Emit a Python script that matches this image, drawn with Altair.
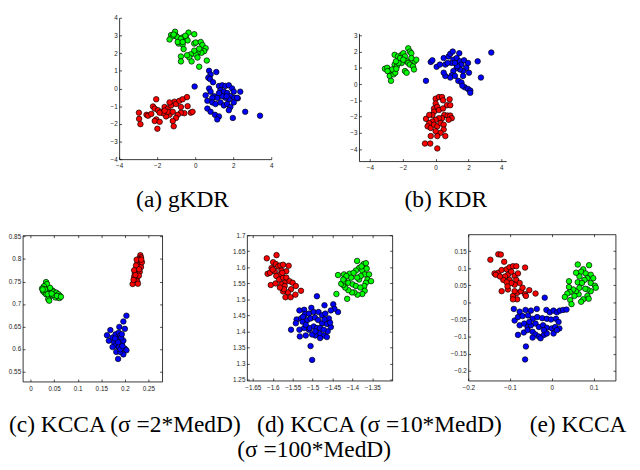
import altair as alt
import pandas as pd

W, H = 640, 470

# ---------------- data ----------------
A_RED = [(-2.05,-0.61),(-2.96,-1.37),(-2.95,-1.72),(-2.88,-2.02),(-2.56,-1.49),(-2.48,-1.54),(-2.22,-1.02),(-2.13,-1.14),(-1.96,-1.23),(-1.79,-1.32),(-1.61,-1.05),(-1.44,-1.14),(-1.27,-0.96),(-1.09,-0.75),(-1.01,-0.88),(-0.83,-0.70),(-0.66,-0.61),(-0.43,-0.49),(-0.40,-1.00),(-0.23,-1.37),(-0.14,-1.32),(-0.57,-1.40),(-0.75,-1.37),(-0.92,-1.49),(-1.01,-1.67),(-1.18,-1.84),(-1.13,-2.14),(-1.35,-1.49),(-1.53,-1.58),(-1.70,-1.40),(-1.87,-1.37),(-2.05,-1.75),(-2.13,-1.84),(-1.87,-1.89),(-1.99,-2.28),(-2.31,-1.44),(-1.44,-1.32),(-1.61,-1.26),(-1.18,-1.32),(-0.75,-1.05),(-1.35,-0.79)]
A_GREEN = [(-1.06,3.21),(-1.27,3.02),(-1.18,2.95),(-1.35,2.77),(-1.01,2.98),(-0.92,2.89),(-0.66,2.89),(-0.57,2.84),(-0.49,2.89),(-0.75,2.81),(-0.35,3.16),(-0.05,3.07),(-0.87,2.54),(-0.66,2.49),(-0.40,2.72),(-0.05,2.54),(0.03,2.60),(0.29,2.63),(0.38,2.46),(0.55,2.28),(0.47,2.11),(0.33,2.02),(0.12,2.02),(0.03,1.93),(-0.05,2.14),(-0.23,1.93),(-0.31,1.75),(-0.19,1.53),(-0.43,1.88),(-0.61,2.23),(-0.75,1.81),(-0.75,1.53),(0.21,1.23),(0.61,1.58),(0.12,1.75),(-0.92,2.63),(-1.13,3.05),(-0.52,2.98),(-0.66,2.63),(0.21,2.25)]
A_BLUE = [(0.73,1.00),(0.81,0.79),(1.11,0.93),(0.69,0.61),(0.78,0.53),(0.94,0.35),(-0.03,0.11),(0.73,0.00),(0.81,-0.18),(0.55,-0.39),(0.99,-0.44),(1.25,0.14),(1.42,0.18),(1.59,0.14),(1.77,0.18),(1.33,-0.09),(1.51,-0.18),(1.68,-0.26),(1.94,0.00),(2.03,-0.18),(2.37,-0.18),(1.85,-0.44),(2.06,-0.53),(2.24,-0.56),(1.77,-0.61),(1.59,-0.53),(1.42,-0.44),(1.16,-0.53),(0.90,-0.53),(0.64,-0.70),(0.90,-0.79),(1.07,-0.88),(1.33,-0.79),(1.51,-0.96),(1.68,-0.88),(1.85,-1.05),(1.77,-1.23),(2.03,-0.79),(0.64,-1.14),(0.81,-1.32),(1.04,-1.49),(1.25,-1.58),(1.16,-1.75),(1.98,-1.67),(2.63,-1.32),(3.41,-1.54),(2.20,-0.53),(1.25,-0.26),(1.65,-0.44)]

B_RED = [(0.00,-0.90),(0.20,-0.80),(0.39,-0.80),(0.45,-1.00),(0.85,-0.94),(0.00,-1.20),(-0.10,-1.50),(0.10,-1.40),(-0.10,-1.70),(-0.20,-1.90),(0.20,-1.60),(0.69,-1.30),(0.89,-1.30),(0.45,-1.50),(0.53,-1.90),(0.73,-1.94),(0.89,-1.94),(0.98,-2.10),(0.79,-2.20),(0.39,-2.10),(0.20,-2.10),(0.00,-2.20),(-0.20,-2.30),(-0.39,-2.40),(-0.59,-2.14),(-0.49,-2.60),(-0.30,-2.70),(-0.10,-2.50),(0.10,-2.60),(0.30,-2.40),(0.49,-2.50),(0.49,-2.80),(0.30,-3.00),(0.59,-3.20),(0.10,-3.20),(-0.30,-3.20),(-0.65,-3.66),(-0.33,-3.66),(0.10,-3.96),(0.00,-2.90),(-0.39,-1.90)]
B_GREEN = [(-3.09,0.94),(-2.95,1.00),(-2.85,0.80),(-2.80,0.50),(-2.72,0.20),(-2.56,0.60),(-2.46,0.70),(-2.50,1.20),(-2.36,1.10),(-2.50,1.80),(-2.30,1.70),(-2.07,1.80),(-1.97,1.90),(-1.87,1.70),(-1.67,2.20),(-1.57,2.00),(-1.48,1.90),(-1.77,1.40),(-1.67,1.30),(-1.57,1.20),(-1.38,1.10),(-1.28,1.40),(-1.18,1.50),(-1.32,0.90),(-1.87,0.80),(-1.77,0.70),(-2.07,1.30),(-2.26,1.30),(-2.17,1.60),(-2.66,0.90),(-2.42,1.40),(-1.97,1.50),(-1.48,1.60),(-2.40,0.94),(-2.93,0.80)]
B_BLUE = [(-0.59,0.20),(-0.30,1.36),(-0.20,1.46),(0.06,1.06),(0.26,1.20),(0.49,1.60),(0.59,1.20),(0.79,1.70),(0.89,1.86),(1.04,2.00),(1.08,1.50),(0.98,1.30),(1.28,1.60),(1.44,1.90),(1.48,1.40),(1.57,1.20),(1.73,1.46),(1.97,1.30),(1.87,1.00),(1.67,0.80),(1.48,0.90),(1.28,1.00),(1.08,0.80),(0.98,0.54),(0.89,0.40),(0.59,0.50),(0.49,0.70),(1.18,0.50),(1.38,0.20),(1.57,0.10),(1.77,-0.20),(1.97,-0.30),(2.11,-0.40),(2.11,-0.54),(1.63,-0.10),(1.32,1.10),(2.56,1.40),(2.76,0.40),(3.39,1.94),(1.18,1.30),(0.73,1.30),(1.67,0.50),(2.03,0.70)]

C_RED = [(0.2329,0.8085),(0.2343,0.8036),(0.2297,0.8000),(0.2316,0.7943),(0.2264,0.7893),(0.2297,0.7858),(0.2251,0.7801),(0.2283,0.7772),(0.2231,0.7730),(0.2211,0.7680),(0.2264,0.7680),(0.2198,0.7609),(0.2251,0.7573),(0.2211,0.7538),(0.2264,0.7502),(0.2165,0.7445),(0.2277,0.7452),(0.2316,0.7716),(0.2343,0.7822),(0.2362,0.7929),(0.2238,0.7858),(0.2198,0.7751),(0.2297,0.7630),(0.2251,0.7986),(0.2185,0.7538),(0.2303,0.7772),(0.2349,0.7986),(0.2224,0.7644)]
C_GREEN = [(0.0328,0.7488),(0.0348,0.7445),(0.0282,0.7395),(0.0243,0.7346),(0.0262,0.7289),(0.0295,0.7253),(0.0361,0.7324),(0.0394,0.7289),(0.0427,0.7253),(0.0459,0.7303),(0.0492,0.7275),(0.0505,0.7218),(0.0545,0.7253),(0.0591,0.7218),(0.0623,0.7182),(0.0571,0.7147),(0.0525,0.7147),(0.0427,0.7182),(0.0374,0.7111),(0.0394,0.7075),(0.0328,0.7218),(0.0308,0.7324),(0.0479,0.7203),(0.0610,0.7132),(0.0413,0.7360),(0.0361,0.7218),(0.0558,0.7182),(0.0643,0.7161),(0.0256,0.7324),(0.0446,0.7232)]
C_BLUE = [(0.2034,0.6741),(0.1969,0.6613),(0.1883,0.6492),(0.2001,0.6449),(0.1693,0.6421),(0.1621,0.6307),(0.1660,0.6186),(0.1739,0.6257),(0.1804,0.6329),(0.1870,0.6364),(0.1903,0.6293),(0.1837,0.6222),(0.1772,0.6151),(0.1804,0.6080),(0.1870,0.6044),(0.1936,0.6115),(0.1969,0.6186),(0.1923,0.6257),(0.2001,0.6009),(0.2034,0.5973),(0.1969,0.5881),(0.1857,0.5781),(0.1818,0.5937),(0.1903,0.5937),(0.1739,0.6044),(0.1936,0.6329),(0.1857,0.6151),(0.1791,0.6236),(0.1903,0.5994),(0.1949,0.6065)]

D_RED = [(-1.615,1.628),(-1.5905,1.638),(-1.599,1.616),(-1.592,1.610),(-1.603,1.598),(-1.613,1.580),(-1.607,1.583),(-1.595,1.588),(-1.586,1.603),(-1.581,1.606),(-1.574,1.608),(-1.560,1.605),(-1.578,1.590),(-1.582,1.578),(-1.591,1.573),(-1.605,1.545),(-1.593,1.550),(-1.584,1.562),(-1.574,1.568),(-1.566,1.568),(-1.570,1.552),(-1.578,1.547),(-1.570,1.542),(-1.558,1.557),(-1.550,1.552),(-1.542,1.542),(-1.554,1.532),(-1.562,1.522),(-1.574,1.525),(-1.568,1.507),(-1.555,1.507),(-1.543,1.515),(-1.529,1.527),(-1.572,1.532),(-1.582,1.537),(-1.600,1.593),(-1.566,1.588),(-1.576,1.583)]
D_GREEN = [(-1.436,1.576),(-1.421,1.578),(-1.407,1.580),(-1.388,1.620),(-1.372,1.610),(-1.366,1.613),(-1.383,1.598),(-1.391,1.590),(-1.375,1.590),(-1.369,1.578),(-1.358,1.578),(-1.362,1.562),(-1.353,1.557),(-1.366,1.552),(-1.370,1.542),(-1.369,1.527),(-1.375,1.517),(-1.387,1.515),(-1.395,1.522),(-1.401,1.522),(-1.410,1.529),(-1.418,1.537),(-1.423,1.545),(-1.428,1.549),(-1.419,1.557),(-1.410,1.552),(-1.399,1.547),(-1.391,1.542),(-1.383,1.562),(-1.379,1.573),(-1.388,1.568),(-1.403,1.568),(-1.415,1.573),(-1.440,1.517),(-1.413,1.502),(-1.380,1.537),(-1.377,1.603),(-1.364,1.596),(-1.397,1.583),(-1.423,1.562)]
D_BLUE = [(-1.489,1.510),(-1.470,1.482),(-1.448,1.485),(-1.436,1.461),(-1.445,1.471),(-1.454,1.466),(-1.521,1.468),(-1.533,1.466),(-1.519,1.454),(-1.509,1.456),(-1.503,1.474),(-1.497,1.461),(-1.485,1.461),(-1.476,1.451),(-1.468,1.456),(-1.459,1.441),(-1.540,1.438),(-1.529,1.441),(-1.525,1.431),(-1.513,1.436),(-1.505,1.441),(-1.494,1.444),(-1.486,1.436),(-1.476,1.426),(-1.464,1.424),(-1.454,1.414),(-1.462,1.401),(-1.472,1.388),(-1.483,1.394),(-1.493,1.388),(-1.501,1.391),(-1.509,1.406),(-1.521,1.411),(-1.533,1.406),(-1.554,1.406),(-1.532,1.385),(-1.517,1.388),(-1.507,1.411),(-1.497,1.416),(-1.489,1.411),(-1.481,1.411),(-1.472,1.406),(-1.456,1.428),(-1.464,1.383),(-1.481,1.380),(-1.493,1.401),(-1.517,1.421),(-1.524,1.446),(-1.505,1.355),(-1.501,1.312),(-1.542,1.426),(-1.470,1.438)]

E_RED = [(-0.147,0.125),(-0.128,0.141),(-0.122,0.140),(-0.114,0.119),(-0.137,0.085),(-0.128,0.087),(-0.120,0.095),(-0.108,0.097),(-0.101,0.103),(-0.093,0.106),(-0.085,0.106),(-0.064,0.102),(-0.105,0.081),(-0.112,0.076),(-0.116,0.066),(-0.101,0.066),(-0.089,0.078),(-0.085,0.066),(-0.077,0.057),(-0.089,0.052),(-0.097,0.057),(-0.108,0.059),(-0.120,0.033),(-0.105,0.038),(-0.093,0.019),(-0.083,0.009),(-0.093,0.009),(-0.083,0.028),(-0.074,0.033),(-0.064,0.024),(-0.054,0.036),(-0.039,0.026),(-0.070,0.043),(-0.081,0.085),(-0.097,0.090),(-0.134,0.081),(-0.124,0.076),(-0.106,0.047),(-0.062,0.019),(-0.089,0.033)]
E_GREEN = [(0.062,0.111),(0.075,0.097),(0.089,0.109),(0.070,0.090),(0.081,0.085),(0.093,0.081),(0.085,0.071),(0.078,0.066),(0.066,0.076),(0.062,0.059),(0.072,0.057),(0.093,0.057),(0.103,0.049),(0.105,0.043),(0.093,0.033),(0.085,0.038),(0.085,0.019),(0.088,0.011),(0.075,0.009),(0.070,0.002),(0.064,0.024),(0.058,0.033),(0.051,0.038),(0.043,0.030),(0.037,0.026),(0.031,0.016),(0.041,0.045),(0.041,0.062),(0.044,0.007),(0.047,-0.005),(0.054,0.019),(0.066,0.043),(0.058,0.087),(0.080,0.040),(0.099,0.071)]
E_BLUE = [(-0.017,0.014),(-0.091,-0.019),(-0.077,-0.027),(-0.063,-0.022),(-0.050,-0.024),(-0.036,-0.019),(-0.013,-0.022),(-0.005,-0.029),(0.004,-0.024),(0.012,-0.029),(0.019,-0.024),(0.027,-0.022),(0.035,-0.021),(-0.089,-0.053),(-0.081,-0.043),(-0.070,-0.040),(-0.057,-0.038),(-0.046,-0.048),(-0.035,-0.043),(-0.023,-0.046),(-0.012,-0.048),(-0.002,-0.050),(0.010,-0.048),(0.016,-0.057),(-0.077,-0.067),(-0.066,-0.062),(-0.058,-0.072),(-0.050,-0.067),(-0.039,-0.062),(-0.031,-0.072),(-0.021,-0.067),(-0.012,-0.074),(0.000,-0.076),(0.008,-0.072),(0.018,-0.076),(-0.081,-0.095),(-0.067,-0.088),(-0.058,-0.081),(-0.046,-0.086),(-0.039,-0.094),(-0.031,-0.100),(-0.019,-0.095),(-0.012,-0.091),(0.004,-0.091),(0.012,-0.081),(-0.027,-0.105),(-0.046,-0.103),(-0.062,-0.129),(-0.064,-0.167),(-0.054,-0.057),(-0.019,-0.081)]

# axis domains and tick values
A_XDOM, A_YDOM = [-4, 4], [-4, 4]
B_XDOM, B_YDOM = [-4.67, 4.3], [-4.74, 3.12]
C_XDOM, C_YDOM = [-0.017, 0.279], [0.528, 0.853]
D_XDOM, D_YDOM = [-1.665, -1.30], [1.248, 1.70]
E_XDOM, E_YDOM = [-0.2, 0.152], [-0.2285, 0.1997]

A_XT, A_YT = [-4, -2, 0, 2, 4], [-4, -3, -2, -1, 0, 1, 2, 3, 4]
B_XT, B_YT = [-4, -2, 0, 2, 4], [-4, -3, -2, -1, 0, 1, 2, 3]
C_XT, C_YT = [0, 0.05, 0.1, 0.15, 0.2, 0.25], [0.55, 0.6, 0.65, 0.7, 0.75, 0.8, 0.85]
D_XT = [-1.65, -1.6, -1.55, -1.5, -1.45, -1.4, -1.35]
D_YT = [1.25, 1.3, 1.35, 1.4, 1.45, 1.5, 1.55, 1.6, 1.65, 1.7]
E_XT = [-0.2, -0.1, 0, 0.1]
E_YT = [-0.2, -0.15, -0.1, -0.05, 0, 0.05, 0.1, 0.15]

CAPTIONS = ["(a) gKDR", "(b) KDR", "(c) KCCA (σ =2*MedD)", "(d) KCCA (σ =10*MedD)",
            "(e) KCCA", "(σ =100*MedD)"]

# ---------------- layout (pixels, page coordinates) ----------------
RECT_A = (122, 12, 278, 157)
RECT_B = (368, 28, 519, 159)
RECT_C = (23, 235, 166, 385)
RECT_D = (253, 235, 402, 384)
RECT_E = (480, 234, 631, 384)
CAP_POS = [(187, 206, "center"), (457, 206, "center"), (9, 437, "left"),
           (389, 437, "center"), (543, 437, "left"), (322, 462, "center")]

COLOR = alt.Scale(domain=["r", "g", "b"], range=["#ff0000", "#00ff00", "#0000ff"])


def pts_df(red, green, blue):
    rows = []
    for cls, pts in (("r", red), ("g", green), ("b", blue)):
        for x, y in pts:
            rows.append({"x": x, "y": y, "cls": cls})
    return pd.DataFrame(rows)


LAB = dict(labelFont="Liberation Sans", labelFontSize=6.5, labelColor="#222",
           labelFlush=False, labelOverlap=False, grid=False, title=None,
           format="~g", domainColor="black", domainWidth=0.8)
TCK = dict(labels=False, ticks=True, tickSize=2.5, tickColor="black", tickWidth=0.7,
           grid=False, title=None)


def panel(df, rect, xdom, ydom, xt, yt, box):
    l, t, r, b = rect
    xs = alt.Scale(domain=xdom, range=[l, r], nice=False, zero=False)
    ys = alt.Scale(domain=ydom, range=[b, t], nice=False, zero=False)
    pts = alt.Chart(df).mark_point(filled=True, size=32, opacity=1, stroke="black",
                                   strokeWidth=0.7).encode(
        x=alt.X("x:Q", scale=xs, axis=alt.Axis(orient="bottom", offset=b - H, values=xt,
                                               ticks=False, labelPadding=4, **LAB)),
        y=alt.Y("y:Q", scale=ys, axis=alt.Axis(orient="left", offset=-l, values=yt,
                                               ticks=False, labelPadding=2, **LAB)),
        color=alt.Color("cls:N", scale=COLOR, legend=None),
    )
    inv = alt.Chart(df).mark_point(opacity=0)
    inner = inv.encode(
        x=alt.X("x:Q", scale=xs, axis=alt.Axis(orient="top", offset=-b, values=xt,
                                               domain=False, **TCK)),
        y=alt.Y("y:Q", scale=ys, axis=alt.Axis(orient="right", offset=l - W, values=yt,
                                               domain=False, **TCK)),
    )
    layers = [pts, inner]
    if box:
        frame = inv.encode(
            x=alt.X("x:Q", scale=xs, axis=alt.Axis(orient="bottom", offset=t - H, values=xt,
                                                   domain=True, domainColor="black",
                                                   domainWidth=0.8, **TCK)),
            y=alt.Y("y:Q", scale=ys, axis=alt.Axis(orient="left", offset=-r, values=yt,
                                                   domain=True, domainColor="black",
                                                   domainWidth=0.8, **TCK)),
        )
        layers.append(frame)
    return layers


layers = []
layers += panel(pts_df(A_RED, A_GREEN, A_BLUE), RECT_A, A_XDOM, A_YDOM, A_XT, A_YT, False)
layers += panel(pts_df(B_RED, B_GREEN, B_BLUE), RECT_B, B_XDOM, B_YDOM, B_XT, B_YT, False)
layers += panel(pts_df(C_RED, C_GREEN, C_BLUE), RECT_C, C_XDOM, C_YDOM, C_XT, C_YT, True)
layers += panel(pts_df(D_RED, D_GREEN, D_BLUE), RECT_D, D_XDOM, D_YDOM, D_XT, D_YT, True)
layers += panel(pts_df(E_RED, E_GREEN, E_BLUE), RECT_E, E_XDOM, E_YDOM, E_XT, E_YT, True)

for txt, (px, py, al) in zip(CAPTIONS, CAP_POS):
    layers.append(
        alt.Chart(pd.DataFrame({"t": [txt]})).mark_text(
            align=al, baseline="alphabetic", font="Liberation Serif", fontSize=24,
            color="black").encode(text="t:N", x=alt.value(px), y=alt.value(py))
    )

chart = (
    alt.layer(*layers)
    .resolve_scale(x="independent", y="independent")
    .resolve_axis(x="independent", y="independent")
    .properties(width=W, height=H, autosize=alt.AutoSizeParams(type="none"),
                padding={"left": -8, "top": -8, "right": 8, "bottom": 8})
    .configure_view(stroke=None)
)

chart.save("out.html", embed_options={"renderer": "svg", "actions": False})
